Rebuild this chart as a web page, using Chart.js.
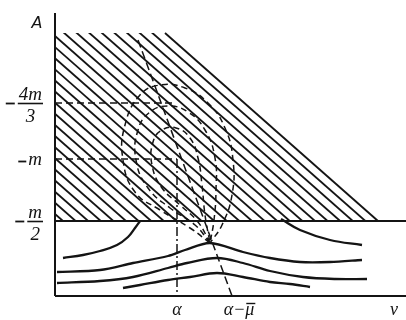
<!DOCTYPE html>
<html><head><meta charset="utf-8">
<script src="https://cdn.jsdelivr.net/npm/chart.js@4"></script>
<style>html,body{margin:0;padding:0;background:#fff;}#wrap{width:406px;height:320px;}</style>
</head><body><div id="wrap"><canvas id="c" width="406" height="320"></canvas></div>
<script>
// ---- data (chart units: nu horizontal, A vertical) ----
const X_MAX = 35.1, Y_MAX = 28.1;
const yTickValues = [19.3, 13.7, 7.5];
const yTickNumerators = ['4m', 'm', 'm'];
const yTickDenominators = ['3', '', '2'];
const xTickValues = [12.2, 17.7];
const xTickLabels = ['α', 'α−μ'];
const axisLabelX = 'ν';
const axisLabelY = 'A';
const hatchRegion = [[0, 26.3], [11.0, 26.3], [32.3, 7.5], [0, 7.5]];
const levelHalf = 7.5;

const curveLeft = [[0.8,3.8],[2.8,4.1],[4.5,4.5],[6.2,5.1],[7.3,5.9],[8.0,6.8],[8.5,7.5]];
const curveRight = [[22.6,7.7],[24.5,6.6],[27.5,5.6],[30.7,5.1]];
const curve1 = [[0.2,2.4],[4.5,2.6],[7.8,3.3],[11.3,4.0],[13.0,4.6],[15.5,5.3],[18.8,4.4],[21.5,3.8],[24.5,3.4],[27.5,3.4],[30.7,3.6]];
const curve2 = [[0.2,1.3],[4.5,1.5],[7.8,1.9],[11.3,2.8],[13.2,3.3],[16.2,3.8],[18.8,3.3],[21.5,2.5],[24.8,1.9],[28.0,1.7],[31.2,1.7]];
const curve3 = [[6.8,0.8],[8.5,1.1],[11.3,1.6],[13.5,1.9],[16.2,2.3],[18.8,1.9],[21.5,1.4],[23.5,1.2],[25.5,0.9]];
const oval1 = [[15.5,5.3],[13.5,6.8],[10.5,8.6],[8.0,10.4],[6.8,13.6],[7.0,17.1],[8.5,20.1],[10.5,21.1],[13.0,20.8],[15.3,19.3],[17.0,16.8],[17.8,13.6],[17.7,10.1],[16.7,7.1],[15.5,5.3]];
const oval2 = [[15.5,5.3],[14.0,7.1],[11.5,8.8],[9.3,10.8],[8.1,13.6],[8.3,16.6],[9.5,18.4],[11.3,19.0],[13.3,18.4],[15.0,16.6],[16.0,13.8],[16.1,10.6],[15.9,7.6],[15.5,5.3]];
const oval3 = [[15.5,5.3],[14.3,7.4],[12.5,9.1],[10.7,10.8],[9.7,13.1],[9.8,15.4],[10.7,16.6],[12.1,16.8],[13.5,15.8],[14.3,13.8],[14.7,11.1],[15.0,8.1],[15.5,5.3]];
const slantLine = [[8.3,25.6],[17.7,0]];

const pts = a => a.map(([x, y]) => ({x, y}));
const INK = '#141414';

function line(data, opts) {
  return Object.assign({data: pts(data), showLine: true, pointRadius: 0, borderColor: INK,
    borderWidth: 2.3, fill: false, tension: 0.4, clip: false}, opts || {});
}

const datasets = [
  line([[0,0],[X_MAX,0]], {borderWidth: 2, tension: 0}),
  line([[0,0],[0,Y_MAX+0.2]], {borderWidth: 2, tension: 0}),
  line([[0,levelHalf],[X_MAX,levelHalf]], {borderWidth: 2.2, tension: 0}),
  line([[0,yTickValues[0]],[12.0,yTickValues[0]]], {borderWidth: 1.5, tension: 0, borderDash: [7,4]}),
  line([[0,yTickValues[1]],[xTickValues[0],yTickValues[1]]], {borderWidth: 1.5, tension: 0, borderDash: [7,4]}),
  line([[xTickValues[0],yTickValues[1]],[xTickValues[0],0]], {borderWidth: 1.5, tension: 0, borderDash: [9,3,2,3]}),
  line(slantLine, {borderWidth: 1.5, tension: 0, borderDash: [8,4]}),
  line(oval1, {borderWidth: 1.5, borderDash: [6,4], tension: 0.45}),
  line(oval2, {borderWidth: 1.5, borderDash: [6,4], tension: 0.45}),
  line(oval3, {borderWidth: 1.5, borderDash: [6,4], tension: 0.45}),
  line(curveLeft),
  line(curveRight),
  line(curve1, {tension: 0.3}),
  line(curve2, {tension: 0.35}),
  line(curve3, {tension: 0.35}),
];

const hatchPlugin = {
  id: 'hatch',
  beforeDatasetsDraw(chart) {
    const {ctx, scales: {x, y}} = chart;
    const p = hatchRegion.map(([a, b]) => [x.getPixelForValue(a), y.getPixelForValue(b)]);
    const p1 = p[1], p2 = p[2];
    const dx = p2[0] - p1[0], dy = p2[1] - p1[1];
    const step = 12.6;
    ctx.save();
    ctx.strokeStyle = INK; ctx.lineWidth = 1.85; ctx.lineCap = 'butt';
    ctx.beginPath(); ctx.moveTo(p1[0], p1[1]); ctx.lineTo(p2[0], p2[1]); ctx.stroke();
    ctx.beginPath();
    p.forEach((q, i) => i ? ctx.lineTo(q[0], q[1]) : ctx.moveTo(q[0], q[1]));
    ctx.closePath(); ctx.clip();
    for (let k = 1; k < 45; k++) {
      const o = k * step;
      ctx.beginPath();
      ctx.moveTo(p1[0] - o - dx, p1[1] - dy);
      ctx.lineTo(p2[0] - o + dx, p2[1] + dy);
      ctx.stroke();
    }
    ctx.restore();
  }
};

function hline(ctx, x1, x2, yy, w) {
  ctx.lineWidth = w; ctx.beginPath(); ctx.moveTo(x1, yy); ctx.lineTo(x2, yy); ctx.stroke();
}

const textPlugin = {
  id: 'texts',
  afterDraw(chart) {
    const {ctx, scales: {x, y}} = chart;
    ctx.save();
    ctx.fillStyle = INK; ctx.strokeStyle = INK;
    const f = 'italic 19px "Liberation Serif"';
    yTickValues.forEach((v, i) => {
      const py = Math.round(y.getPixelForValue(v)) + 0.5;
      const num = yTickNumerators[i], den = yTickDenominators[i];
      ctx.font = f; ctx.textAlign = 'center';
      if (den) {
        const w = Math.max(ctx.measureText(num).width, 13);
        const cx = 42 - w / 2;
        ctx.textBaseline = 'alphabetic';
        ctx.fillText(num, cx, py - 4);
        ctx.fillText(den, cx, py + 18);
        hline(ctx, cx - w / 2 - 1, cx + w / 2 + 1, py, 1.6);
        hline(ctx, cx - w / 2 - 13, cx - w / 2 - 4, py, 1.8);
      } else {
        ctx.textBaseline = 'middle';
        const w = ctx.measureText(num).width;
        ctx.fillText(num, 42 - w / 2, py);
        hline(ctx, 42 - w - 10, 42 - w - 2, py + 2, 1.8);
      }
    });
    ctx.font = 'italic 18px "Liberation Serif"';
    ctx.textAlign = 'center'; ctx.textBaseline = 'alphabetic';
    ctx.fillText(xTickLabels[0], x.getPixelForValue(xTickValues[0]), 315);
    const lx = x.getPixelForValue(xTickValues[1]) + 7;
    ctx.fillText(xTickLabels[1], lx, 315);
    const tw = ctx.measureText(xTickLabels[1]).width;
    const mw = ctx.measureText('μ').width;
    hline(ctx, lx + tw / 2 - mw + 1, lx + tw / 2 + 1, 303.5, 1.4);
    ctx.fillText(axisLabelX, 394, 315);
    ctx.font = 'italic 16px "DejaVu Sans"';
    ctx.fillText(axisLabelY, 37, 28);
    ctx.restore();
  }
};

new Chart(document.getElementById('c'), {
  type: 'scatter',
  data: {datasets},
  options: {
    responsive: false, animation: false, devicePixelRatio: 1,
    layout: {padding: {left: 55, top: 15, right: 0, bottom: 24}},
    scales: {
      x: {type: 'linear', min: 0, max: X_MAX, display: false},
      y: {type: 'linear', min: 0, max: Y_MAX, display: false}
    },
    plugins: {legend: {display: false}, tooltip: {enabled: false}}
  },
  plugins: [hatchPlugin, textPlugin]
});
</script></body></html>
